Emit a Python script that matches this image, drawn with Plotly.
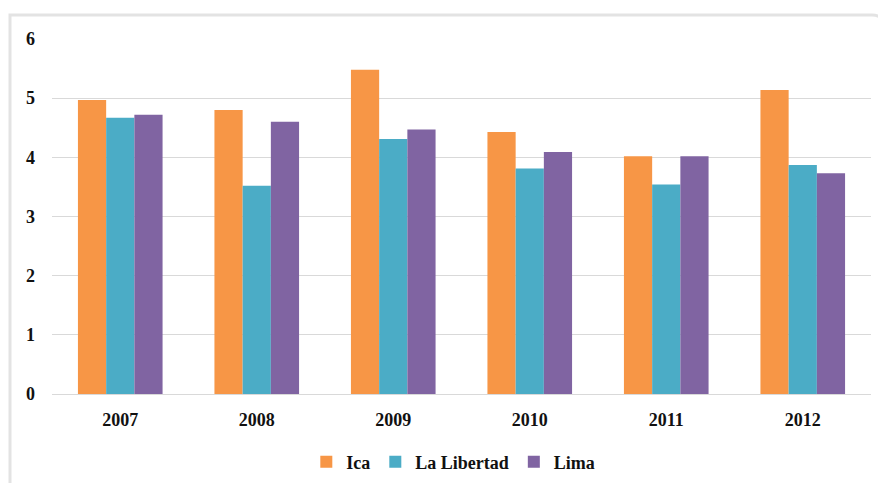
import plotly.graph_objects as go

years = ["2007", "2008", "2009", "2010", "2011", "2012"]
ica = [4.97, 4.80, 5.48, 4.43, 4.02, 5.14]
la_libertad = [4.67, 3.52, 4.31, 3.81, 3.54, 3.87]
lima = [4.72, 4.60, 4.47, 4.09, 4.02, 3.73]

series = [("Ica", ica, "#F79646"), ("La Libertad", la_libertad, "#4BACC6"), ("Lima", lima, "#8064A2")]

W, H = 886, 483
OFF = 8  # page body margin
L, T = 52 - OFF, 39 - OFF
R = W - (871 - OFF)
B = H - (394 - OFF)

fig = go.Figure()
for name, vals, col in series:
    fig.add_trace(go.Bar(x=years, y=vals, name=name, marker=dict(color=col, line=dict(width=0))))

pw = W - L - R
ph = H - T - B
def px(x):
    return (x - OFF - L) / pw
def py(y):
    return (H - B - (y - OFF)) / ph

x0, x1 = px(10), px(884)
y0, y1 = py(15), py(520)
rr = 12 / pw
ry = 12 / ph
path = (f"M {x0},{y1} L {x0},{y0} L {x1 - rr},{y0} "
        f"Q {x1},{y0} {x1},{y0 - ry} L {x1},{y1}")

tf = dict(family="Liberation Serif", size=18, color="#111111", weight="bold")

fig.update_layout(
    width=W, height=H,
    margin=dict(l=L, r=R, t=T, b=B, autoexpand=False),
    paper_bgcolor="white", plot_bgcolor="white",
    barmode="group", bargap=0.38, bargroupgap=0,
    font=dict(family="Liberation Serif", size=18, color="#111111"),
    yaxis=dict(range=[0, 6], dtick=1, showgrid=True, gridcolor="#D9D9D9", gridwidth=1,
               zeroline=True, zerolinecolor="#D9D9D9", zerolinewidth=1,
               tickfont=tf, ticks="", ticklabelstandoff=16, automargin=False, fixedrange=True),
    xaxis=dict(showgrid=False, showline=False, ticks="", tickfont=tf,
               ticklabelstandoff=13, automargin=False),
    legend=dict(orientation="h", x=0.49, xanchor="center", y=py(462), yanchor="middle",
                font=tf, itemwidth=30, traceorder="normal"),
    shapes=[dict(type="path", xref="paper", yref="paper", path=path,
                 line=dict(color="#E3E3E3", width=3), layer="below")],
)

fig.write_html("out.html")
